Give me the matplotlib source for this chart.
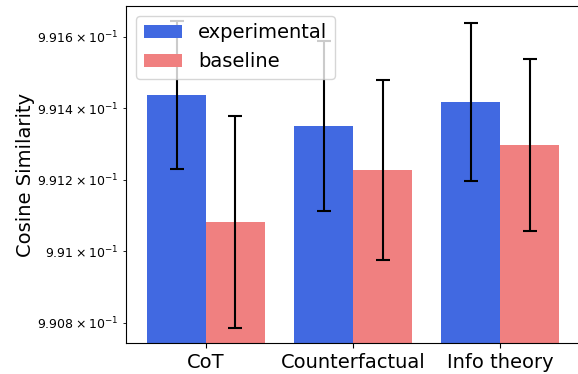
import matplotlib
matplotlib.use("Agg")
import matplotlib.pyplot as plt
import numpy as np

# Data
methods = ["CoT", "Counterfactual", "Info theory"]
experimental = [0.991437, 0.991351, 0.991418]
experimental_err = [0.000206, 0.000238, 0.000221]
baseline = [0.991082, 0.991228, 0.991298]
baseline_err = [0.000295, 0.000251, 0.000241]

x = np.arange(len(methods))
width = 0.4

fig = plt.figure(figsize=(5.78, 3.74), dpi=100)
ax = fig.add_axes([0.218, 0.083, 0.786, 0.901])

ax.bar(x - width / 2, experimental, width, yerr=experimental_err,
       color="royalblue", capsize=5, error_kw={"elinewidth": 1.5, "capthick": 1.5},
       label="experimental")
ax.bar(x + width / 2, baseline, width, yerr=baseline_err,
       color="lightcoral", capsize=5, error_kw={"elinewidth": 1.5, "capthick": 1.5},
       label="baseline")

ax.set_yscale("log")
ax.set_ylim(0.990744, 0.991686)
ax.set_xlim(-0.544, 2.544)

ax.set_xticks(x)
ax.set_xticklabels(methods, fontsize=14)
ax.tick_params(axis="y", which="both", labelsize=9)
ax.set_ylabel("Cosine Similarity", fontsize=14, labelpad=2)
ax.legend(loc="upper left", fontsize=14)

fig.savefig("out.png", dpi=100)
